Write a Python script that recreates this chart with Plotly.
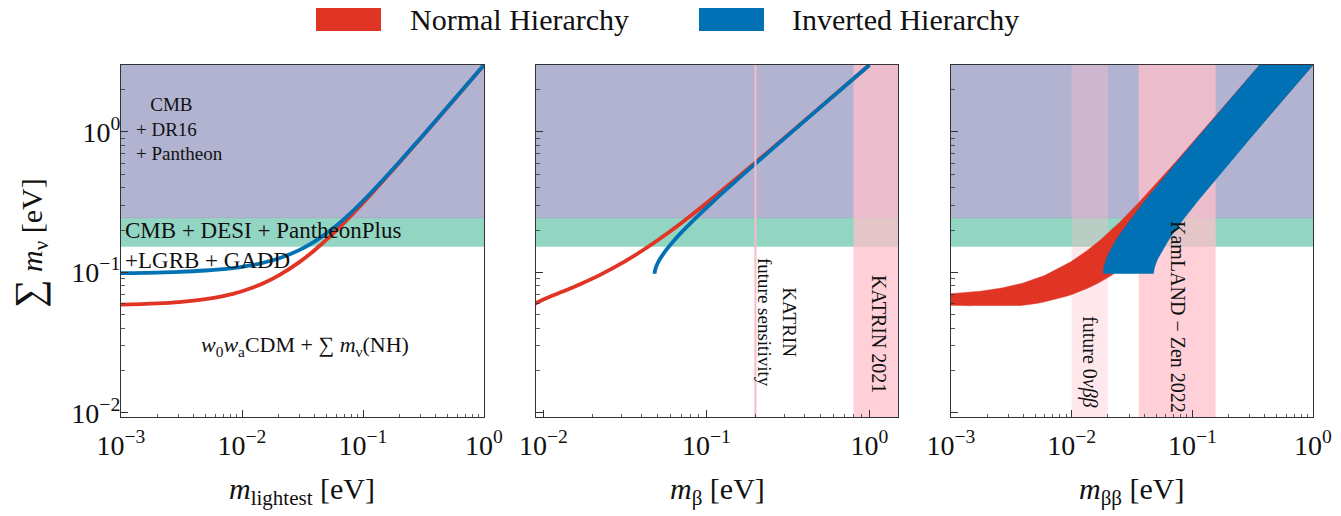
import plotly.graph_objects as go

W, H = 1341, 516
FONT = "Liberation Serif"
TXT = "#111111"

# ---------------- data ----------------
m_lightest = [0, 5e-4, 1e-3, 2e-3, 3e-3, 5e-3, 7e-3, 8e-3, 9e-3, 1e-2, 1.2e-2, 1.5e-2,
              2e-2, 3e-2, 4e-2, 5e-2, 7e-2, 0.1, 0.2, 0.3, 0.5, 1.0]
sum_nh = [0.05785, 0.05837, 0.05892, 0.06012, 0.06145, 0.06445, 0.06783, 0.06963,
          0.0715, 0.07343, 0.07744, 0.08375, 0.09489, 0.11884, 0.14433, 0.17088,
          0.22609, 0.31182, 0.60615, 0.90414, 1.50249, 3.00125]
sum_ih = [0.09762, 0.09812, 0.09864, 0.0997, 0.1008, 0.10313, 0.10562, 0.10692,
          0.10826, 0.10965, 0.11253, 0.11713, 0.1255, 0.14458, 0.16621, 0.18975,
          0.24068, 0.32255, 0.61174, 0.90789, 1.50475, 3.00238]
mbeta_nh = [0.008718, 0.008732, 0.008775, 0.008944, 0.00922, 0.01005, 0.01118, 0.011832,
            0.01253, 0.01327, 0.014832, 0.01735, 0.02182, 0.03124, 0.04094, 0.05075,
            0.07054, 0.10038, 0.20019, 0.30013, 0.50008, 1.00004]
mbeta_ih = [0.04812, 0.04812, 0.04813, 0.04816, 0.04821, 0.04838, 0.04862, 0.048778,
            0.048952, 0.04915, 0.049591, 0.0504, 0.05211, 0.0567, 0.06257, 0.06939,
            0.08494, 0.11097, 0.20571, 0.30384, 0.50231, 1.00116]
mbb_nh_max = [0.003667, 0.004011, 0.004364, 0.005097, 0.005861, 0.007474, 0.009179,
              0.010055, 0.010948, 0.011852, 0.01369, 0.016499, 0.021267, 0.030976,
              0.040796, 0.050667, 0.070503, 0.100364, 0.200188, 0.300128, 0.500078,
              1.000039]
mbb_nh_min = [0.001483, 0.001147, 0.00082, 0.000189, 0.0, 0.0, 0.000349, 0.000833,
              0.001302, 0.001758, 0.002642, 0.003917, 0.005953, 0.009854, 0.013644,
              0.017383, 0.024767, 0.035736, 0.072012, 0.108172, 0.180422, 0.360961]
mbb_ih_max = [0.047578, 0.047592, 0.04761, 0.047662, 0.047736, 0.04794, 0.048224,
              0.048395, 0.048585, 0.048795, 0.04927, 0.050121, 0.051885, 0.056561,
              0.062479, 0.069331, 0.084913, 0.110962, 0.205705, 0.303834, 0.50231,
              1.001156]
mbb_ih_min = [0.018328, 0.018318, 0.01831, 0.0183, 0.018298, 0.018318, 0.018368,
              0.018405, 0.018449, 0.018503, 0.01863, 0.018875, 0.019421, 0.020969,
              0.023005, 0.025403, 0.030933, 0.040256, 0.074361, 0.109752, 0.181374,
              0.361438]

cosmo_desi_band = [0.152, 0.243]      # CMB + DESI + PantheonPlus + LGRB + GADD
cosmo_dr16_lower = 0.243              # CMB + DR16 + Pantheon
katrin_2021 = 0.8
katrin_future = 0.2
kamland_zen_2022 = [0.036, 0.156]
future_0vbb = [0.01, 0.02]

x_ticks_1 = [1e-3, 1e-2, 1e-1, 1]
x_ticklabels_1 = ["10<sup>−3</sup>", "10<sup>−2</sup>", "10<sup>−1</sup>", "10<sup>0</sup>"]
x_ticks_2 = [1e-2, 1e-1, 1]
x_ticklabels_2 = ["10<sup>−2</sup>", "10<sup>−1</sup>", "10<sup>0</sup>"]
y_ticks = [1e-2, 1e-1, 1]
y_ticklabels = ["10<sup>−2</sup>", "10<sup>−1</sup>", "10<sup>0</sup>"]

# ---------------- styling ----------------
RED = "#E03424"
BLUE = "#0071B4"
PURPLE = "#B2B3D1"
GREEN = "#93D5C3"
PINK = "rgba(255,192,203,0.75)"
PINK_LIGHT = "rgba(255,192,203,0.36)"
FLOOR = 1e-4
BIG = 10.0

def px(x):
    return x / W

def py(y):
    return 1 - y / H

fig = go.Figure()

def add_backgrounds(ax):
    xa, ya = ax
    fig.add_trace(go.Scatter(x=[FLOOR, BIG, BIG, FLOOR], y=[cosmo_dr16_lower, cosmo_dr16_lower, BIG, BIG],
                             fill="toself", fillcolor=PURPLE, mode="lines",
                             line=dict(color="#8aa8a6", width=1.2), hoverinfo="skip",
                             showlegend=False, xaxis=xa, yaxis=ya))
    fig.add_trace(go.Scatter(x=[FLOOR, BIG, BIG, FLOOR],
                             y=[cosmo_desi_band[0], cosmo_desi_band[0], cosmo_desi_band[1], cosmo_desi_band[1]],
                             fill="toself", fillcolor=GREEN, mode="lines", line=dict(width=0),
                             hoverinfo="skip", showlegend=False, xaxis=xa, yaxis=ya))

def add_vband(ax, lo, hi, color):
    xa, ya = ax
    fig.add_trace(go.Scatter(x=[lo, hi, hi, lo], y=[1e-3, 1e-3, BIG, BIG], fill="toself",
                             fillcolor=color, mode="lines", line=dict(width=0),
                             hoverinfo="skip", showlegend=False, xaxis=xa, yaxis=ya))

# ---- panel 1 ----
add_backgrounds(("x", "y"))
fig.add_trace(go.Scatter(x=m_lightest[1:], y=sum_nh[1:], mode="lines", name="Normal Hierarchy",
                         line=dict(color=RED, width=3.8, shape="spline"), showlegend=False,
                         xaxis="x", yaxis="y"))
fig.add_trace(go.Scatter(x=m_lightest[1:], y=sum_ih[1:], mode="lines", name="Inverted Hierarchy",
                         line=dict(color=BLUE, width=3.8, shape="spline"), showlegend=False,
                         xaxis="x", yaxis="y"))

# ---- panel 2 ----
add_backgrounds(("x2", "y2"))
add_vband(("x2", "y2"), katrin_2021, BIG, PINK)
fig.add_trace(go.Scatter(x=mbeta_nh, y=sum_nh, mode="lines", line=dict(color=RED, width=3.8, shape="spline"),
                         showlegend=False, xaxis="x2", yaxis="y2"))
fig.add_trace(go.Scatter(x=mbeta_ih, y=sum_ih, mode="lines", line=dict(color=BLUE, width=3.8, shape="spline"),
                         showlegend=False, xaxis="x2", yaxis="y2"))
fig.add_trace(go.Scatter(x=[katrin_future, katrin_future], y=[1e-3, BIG], mode="lines",
                         line=dict(color="#F8BCC6", width=2), hoverinfo="skip",
                         showlegend=False, xaxis="x2", yaxis="y2"))

# ---- panel 3 ----
add_backgrounds(("x3", "y3"))
add_vband(("x3", "y3"), future_0vbb[0], future_0vbb[1], PINK_LIGHT)
add_vband(("x3", "y3"), kamland_zen_2022[0], kamland_zen_2022[1], PINK)
nh_poly_x = mbb_nh_max + [max(v, FLOOR) for v in mbb_nh_min[::-1]]
nh_poly_y = sum_nh + sum_nh[::-1]
ih_poly_x = mbb_ih_max + [max(v, FLOOR) for v in mbb_ih_min[::-1]]
ih_poly_y = sum_ih + sum_ih[::-1]
fig.add_trace(go.Scatter(x=nh_poly_x, y=nh_poly_y, fill="toself", fillcolor=RED, mode="lines",
                         line=dict(color=RED, width=0.5), showlegend=False, xaxis="x3", yaxis="y3"))
fig.add_trace(go.Scatter(x=ih_poly_x, y=ih_poly_y, fill="toself", fillcolor=BLUE, mode="lines",
                         line=dict(color=BLUE, width=0.5), showlegend=False, xaxis="x3", yaxis="y3"))

# ---------------- axes ----------------
def axis(rng, domain, tickvals, ticktext, show_labels=True, anchor=None, standoff=0):
    d = dict(type="log", range=rng, domain=domain, showline=True, linecolor="#333333",
             linewidth=1.2, mirror=True, ticks="inside", ticklen=7, tickwidth=1,
             tickcolor="#333333", showgrid=False, zeroline=False, automargin=False,
             tickmode="array", tickvals=tickvals, ticktext=ticktext,
             showticklabels=show_labels, ticklabelstandoff=standoff,
             tickfont=dict(family=FONT, size=28, color=TXT),
             minor=dict(ticks="inside", ticklen=3.5, tickwidth=0.8, tickcolor="#333333",
                        dtick="D1", showgrid=False))
    if anchor:
        d["anchor"] = anchor
    return d

YR = [-2.03, 0.4771]
yd = [py(417), py(65)]
xd1 = [px(121), px(484)]
xd2 = [px(536), px(898)]
xd3 = [px(951), px(1313)]

fig.update_layout(
    xaxis=axis([-3, 0], xd1, x_ticks_1, x_ticklabels_1, anchor="y", standoff=3),
    xaxis2=axis([-2.0458, 0.1761], xd2, x_ticks_2, x_ticklabels_2, anchor="y2", standoff=3),
    xaxis3=axis([-3, 0], xd3, x_ticks_1, x_ticklabels_1, anchor="y3", standoff=3),
    yaxis=axis(YR, yd, y_ticks, y_ticklabels, anchor="x", standoff=-6),
    yaxis2=axis(YR, yd, y_ticks, y_ticklabels, show_labels=False, anchor="x2"),
    yaxis3=axis(YR, yd, y_ticks, y_ticklabels, show_labels=False, anchor="x3"),
)

# ---------------- text ----------------
ann = []
def text(x, y, s, size, xanchor="center", angle=0, align="center"):
    ann.append(dict(x=px(x), y=py(y), xref="paper", yref="paper", text=s, showarrow=False,
                    xanchor=xanchor, yanchor="middle", textangle=angle, align=align,
                    font=dict(family=FONT, size=size, color=TXT)))

# axis titles
text(30, 243, '<span style="font-size:40px">∑</span> <i>m</i><sub>ν</sub> [eV]', 30, angle=-90)
text(302, 491, "<i>m</i><sub>lightest</sub> [eV]", 30)
text(717, 491, "<i>m</i><sub>β</sub> [eV]", 30)
text(1132, 491, "<i>m</i><sub>ββ</sub> [eV]", 30)

# panel 1 labels
text(134, 129, "   CMB<br>+ DR16<br>+ Pantheon", 19, xanchor="left", align="left")
text(123, 246, "CMB + DESI + PantheonPlus<br>+LGRB + GADD", 23, xanchor="left", align="left")
text(305, 346, "<i>w</i><sub>0</sub><i>w</i><sub>a</sub>CDM + ∑ <i>m</i><sub>ν</sub>(NH)", 22)

# panel 2 labels
text(777, 322, "KATRIN<br>future sensitivity", 19, angle=90)
text(879, 334, "KATRIN 2021", 20, angle=90)

# panel 3 labels
text(1090, 362, "future 0<i>νββ</i>", 20, angle=90)
text(1178, 317, "KamLAND − Zen 2022", 20, angle=90)

# legend
text(408, 20, "Normal Hierarchy", 30, xanchor="left")
text(790, 20, "Inverted Hierarchy", 30, xanchor="left")
shapes = [
    dict(type="rect", xref="paper", yref="paper", x0=px(316), x1=px(381), y0=py(31), y1=py(8),
         fillcolor=RED, line=dict(width=0)),
    dict(type="rect", xref="paper", yref="paper", x0=px(699), x1=px(764), y0=py(31), y1=py(8),
         fillcolor=BLUE, line=dict(width=0)),
]

fig.update_layout(
    width=W, height=H, margin=dict(l=0, r=0, t=0, b=0, pad=0, autoexpand=False),
    paper_bgcolor="white", plot_bgcolor="white",
    annotations=ann, shapes=shapes, showlegend=False,
    font=dict(family=FONT, color=TXT),
)

fig.write_html("out.html", config={"displayModeBar": False, "staticPlot": True},
               post_script="document.body.style.margin='0px';document.body.style.overflow='hidden';")
